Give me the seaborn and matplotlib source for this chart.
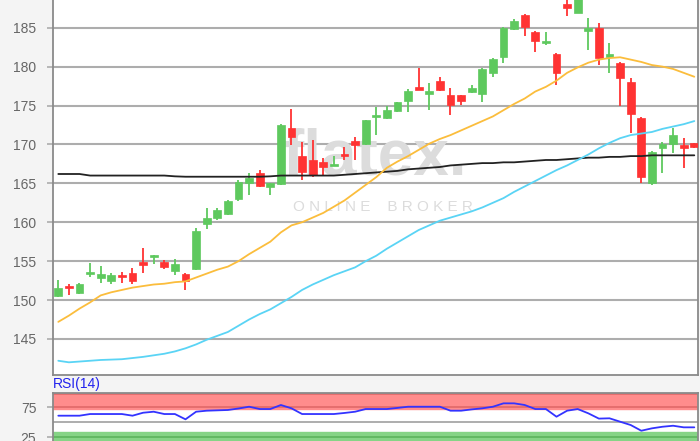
# Candlestick chart with moving averages and RSI panel
import numpy as np
import pandas as pd
import matplotlib
matplotlib.use("Agg")
import matplotlib.pyplot as plt
import seaborn as sns

# ------------------------------------------
# Data
# ------------------------------------------
opens = [150.5, 151.8, 150.9, 153.3, 152.8, 152.5, 153.2, 153.5, 154.9, 155.5,
         154.9, 153.7, 153.4, 154.0, 159.8, 160.5, 161.1, 163.0, 165.0, 166.3,
         164.5, 164.9, 172.1, 168.5, 168.0, 167.7, 167.2, 168.8, 170.4, 170.1,
         173.5, 173.4, 174.3, 175.6, 177.4, 176.5, 178.2, 176.3, 176.3, 176.7,
         176.5, 179.2, 181.2, 184.8, 186.6, 184.5, 183.0, 181.6, 188.0, 186.9,
         184.6, 185.0, 181.2, 180.5, 178.0, 173.4, 165.0, 169.5, 170.1, 169.9,
         170.2]
highs = [152.6, 152.0, 152.2, 154.8, 154.4, 153.5, 153.6, 154.1, 156.7, 155.8,
         155.2, 155.3, 153.5, 159.2, 161.8, 161.8, 162.8, 165.4, 166.3, 166.7,
         165.1, 172.6, 174.5, 170.3, 170.6, 168.2, 168.5, 169.7, 171.0, 173.2,
         174.8, 174.9, 175.5, 177.1, 179.8, 177.9, 178.7, 177.2, 176.4, 177.6,
         179.8, 181.1, 185.1, 186.1, 186.7, 184.6, 184.4, 181.8, 189.0, 190.0,
         186.2, 185.6, 183.0, 180.6, 178.5, 173.5, 169.1, 170.3, 172.1, 170.8,
         170.2]
lows = [150.4, 150.6, 150.8, 152.9, 152.2, 152.0, 152.2, 152.0, 153.5, 154.6,
        154.0, 153.2, 151.3, 153.9, 159.1, 160.3, 160.9, 162.7, 163.5, 164.5,
        163.5, 164.8, 169.9, 165.4, 165.8, 166.1, 167.2, 168.0, 168.0, 169.9,
        171.2, 173.3, 174.2, 174.2, 177.0, 174.4, 176.9, 173.8, 175.1, 176.6,
        175.5, 178.7, 180.5, 184.7, 183.9, 181.9, 182.8, 177.6, 186.5, 186.9,
        182.1, 180.2, 179.2, 175.0, 171.5, 165.0, 164.8, 166.3, 168.9, 167.0,
        169.6]
closes = [151.5, 151.5, 152.0, 153.5, 153.3, 153.2, 152.9, 152.5, 154.5, 155.7,
          154.3, 154.6, 152.4, 158.9, 160.5, 161.6, 162.7, 165.2, 165.7, 164.6,
          165.0, 172.5, 171.0, 166.5, 166.1, 167.1, 167.4, 168.5, 169.9, 173.1,
          173.8, 174.4, 175.4, 176.9, 177.0, 176.9, 177.0, 175.1, 175.6, 177.2,
          179.7, 181.0, 185.0, 185.9, 185.1, 183.3, 183.3, 179.2, 187.5, 189.5,
          185.0, 181.1, 181.6, 178.5, 173.9, 165.8, 169.0, 170.0, 171.2, 169.6,
          169.7]

sma_short = [147.2, 148.0, 148.9, 149.7, 150.6, 151.0, 151.3, 151.6, 151.8, 152.0,
             152.1, 152.3, 152.4, 152.9, 153.4, 153.9, 154.3, 155.0, 155.9, 156.7,
             157.5, 158.7, 159.6, 160.0, 160.6, 161.2, 162.0, 162.8, 163.8, 164.8,
             165.8, 167.0, 167.8, 168.5, 169.3, 170.1, 170.7, 171.2, 171.8, 172.4,
             173.0, 173.6, 174.4, 175.2, 175.9, 176.8, 177.4, 178.2, 179.2, 179.9,
             180.5, 180.9, 181.1, 181.2, 180.9, 180.6, 180.2, 180.0, 179.7, 179.2,
             178.7]
sma_mid = [142.2, 142.0, 142.1, 142.2, 142.3, 142.35, 142.4, 142.55, 142.7, 142.9,
           143.1, 143.4, 143.8, 144.3, 144.9, 145.4, 145.9, 146.7, 147.5, 148.2,
           148.8, 149.6, 150.4, 151.3, 152.0, 152.6, 153.2, 153.7, 154.2, 155.0,
           155.7, 156.6, 157.4, 158.2, 159.0, 159.6, 160.2, 160.6, 161.0, 161.4,
           161.9, 162.5, 163.1, 163.9, 164.6, 165.3, 166.0, 166.7, 167.3, 168.0,
           168.7, 169.5, 170.2, 170.8, 171.2, 171.4, 171.6, 172.0, 172.3, 172.6,
           173.0]
sma_long = [166.2, 166.2, 166.2, 166.0, 166.0, 166.0, 166.0, 166.0, 166.0, 166.0,
            166.0, 165.9, 165.85, 165.85, 165.85, 165.85, 165.85, 165.85, 165.85, 165.85,
            165.9, 166.0, 166.0, 166.0, 166.0, 166.0, 166.0, 166.1, 166.2, 166.3,
            166.4, 166.5, 166.6, 166.8, 166.9, 167.0, 167.1, 167.3, 167.4, 167.5,
            167.6, 167.6, 167.7, 167.7, 167.8, 167.9, 168.0, 168.0, 168.1, 168.2,
            168.3, 168.3, 168.4, 168.4, 168.5, 168.5, 168.6, 168.6, 168.6, 168.6,
            168.6]
rsi = [60.9, 60.9, 60.9, 63.7, 63.7, 63.7, 63.7, 60.9, 65.9, 67.6,
       63.7, 63.7, 54.8, 67.6, 69.3, 69.9, 70.5, 73.0, 76.0, 72.1,
       72.1, 78.9, 73.3, 63.7, 63.7, 63.7, 63.7, 65.5, 67.6, 72.1,
       72.1, 72.1, 74.0, 76.0, 76.0, 76.0, 76.0, 69.3, 69.3, 71.5,
       73.3, 76.0, 81.7, 81.7, 78.9, 72.1, 72.1, 59.2, 69.3, 72.1,
       64.9, 56.0, 56.5, 50.8, 45.2, 35.6, 39.6, 42.3, 44.0, 41.3,
       41.3]

idx = np.arange(len(closes))
df = pd.DataFrame({"idx": idx, "open": opens, "high": highs, "low": lows,
                   "close": closes, "sma_short": sma_short, "sma_mid": sma_mid,
                   "sma_long": sma_long, "rsi": rsi})

# ------------------------------------------
# Style
# ------------------------------------------
sns.set_style("white")
plt.rcParams["font.family"] = ["Liberation Sans", "DejaVu Sans"]

GREEN = "#5ec95e"
RED = "#ff3333"
GRID = "#adadad"
SPINE = "#8a8a8a"
LABEL = "#666666"

fig = plt.figure(figsize=(7, 4.41), dpi=100, facecolor="#f4f4f4")
ax = fig.add_axes([53 / 700, 1 - 375 / 441, 645 / 700, 375 / 441])
ax_rsi = fig.add_axes([53 / 700, 0, 645 / 700, 48 / 441])

# ==========================================
# 1. Price panel
# ==========================================
ax.set_facecolor("white")
for v in range(145, 190, 5):
    ax.axhline(v, color=GRID, lw=1.5, zorder=0)

# watermark
ax.text(0.50, 0.58, "flatex.", transform=ax.transAxes, ha="center", va="center",
        fontsize=46, fontweight="bold", color="#dcdcdc", zorder=0.5)
ax.text(0.512, 0.448, "O N L I N E    B R O K E R", transform=ax.transAxes,
        ha="center", va="center", fontsize=11, color="#dcdcdc", zorder=0.5)

up = df["close"] >= df["open"]
colors = np.where(up, GREEN, RED)
body_low = np.minimum(df["open"], df["close"])
body_h = np.maximum(np.abs(df["close"] - df["open"]), 0.25)
ax.vlines(df["idx"], df["low"], df["high"], colors=colors, lw=1.3, zorder=2)
ax.bar(df["idx"], body_h, bottom=body_low, width=0.72, color=colors,
       edgecolor=colors, lw=0.5, zorder=3)

sns.lineplot(data=df, x="idx", y="sma_long", ax=ax, color="#222222", lw=1.3, zorder=4)
sns.lineplot(data=df, x="idx", y="sma_short", ax=ax, color="#fbbd3c", lw=1.3, zorder=4)
sns.lineplot(data=df, x="idx", y="sma_mid", ax=ax, color="#5ad4f5", lw=1.3, zorder=4)

ax.set_xlim(-0.5, 60.35)
ax.set_ylim(140.37, 188.56)
ax.set_yticks(range(145, 190, 5))
ax.set_xticks([])
ax.set_xlabel("")
ax.set_ylabel("")
ax.tick_params(axis="y", length=4, width=1.2, color=GRID, labelsize=10,
               labelcolor=LABEL, pad=8, left=True)
ax.spines["top"].set_visible(False)
for s in ["left", "bottom", "right"]:
    ax.spines[s].set_color(SPINE)
    ax.spines[s].set_linewidth(1.3)

# ==========================================
# 2. RSI panel
# ==========================================
ax_rsi.set_facecolor("white")
ax_rsi.axhspan(72, 100, color="#ff8c8c", zorder=0)
ax_rsi.axhspan(0, 33, color="#86d486", zorder=0)
ax_rsi.axhline(75, color="#e06868", lw=1.2, zorder=1)
ax_rsi.axhline(97, color="#e06868", lw=1.2, zorder=1)
ax_rsi.axhline(25, color="#5cb45c", lw=1.2, zorder=1)
ax_rsi.axhline(50, color=GRID, lw=1.4, zorder=1)

sns.lineplot(data=df, x="idx", y="rsi", ax=ax_rsi, color="#3333ff", lw=1.3, zorder=3)

ax_rsi.set_xlim(-0.5, 60.35)
ax_rsi.set_ylim(18.3, 99.1)
ax_rsi.set_yticks([25, 75])
ax_rsi.set_xticks([])
ax_rsi.set_xlabel("")
ax_rsi.set_ylabel("")
ax_rsi.tick_params(axis="y", length=4, width=1.2, color=GRID, labelsize=10,
                   labelcolor=LABEL, pad=8, left=True)
ax_rsi.spines["bottom"].set_visible(False)
for s in ["left", "top", "right"]:
    ax_rsi.spines[s].set_color(SPINE)
    ax_rsi.spines[s].set_linewidth(1.3)

fig.text(53 / 700, 1 - 384 / 441, "RSI(14)", color="#2222ee", fontsize=10,
         ha="left", va="center")

fig.savefig("out.png", dpi=100, facecolor=fig.get_facecolor())
